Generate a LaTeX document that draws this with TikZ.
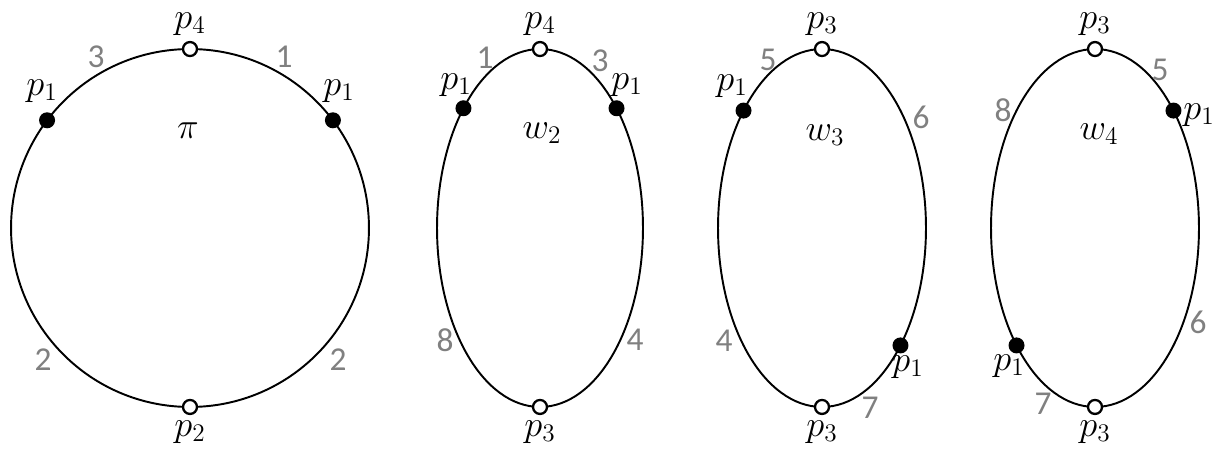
\documentclass[tikz,border=0pt]{standalone}
\usepackage{fontspec}
\newfontfamily\numfont{Carlito}
\usetikzlibrary{positioning}
\definecolor{numgray}{RGB}{128,128,128}
\tikzset{
    x=0.02cm, y=0.02cm, % one unit is one pixel of the reference
    loop/.style={line width=1.1pt}, % the circle and the ellipses
    full/.style={circle,fill=black,inner sep=0pt,minimum size=0.32cm}, % filled point
    open/.style={circle,draw=black,fill=white,line width=1.3pt,inner sep=0pt,minimum size=0.28cm}, % open point
    pt/.style={inner sep=0pt,font=\fontsize{22}{26}\selectfont}, % point names
    num/.style={inner sep=0pt,text=numgray,font=\fontsize{19}{21}\numfont}, % gray numbers
}
\begin{document}
\begin{tikzpicture}
  \useasboundingbox (0,0) rectangle (1225,457);

  % pi
  \coordinate (pi) at (190,229);
  \draw[loop] (pi) circle (3.58cm);
  \node[open] (pi_top) at ([shift={(90:3.58cm)}]pi) {};
  \node[open] (pi_bot) at ([shift={(270:3.58cm)}]pi) {};
  \node[full] (pi_a) at ([shift={(143:3.58cm)}]pi) {};
  \node[full] (pi_b) at ([shift={(37:3.58cm)}]pi) {};
  \node[pt] (pi_toplbl) [above=3pt of pi_top] {$p_4$};
  \node[pt] (pi_botlbl) [below=3pt of pi_bot] {$p_2$};
  \node[pt] (pi_albl) at (42,366) {$p_1$};
  \node[pt] (pi_blbl) at (339,366) {$p_1$};
  \node[pt] (pi_name) at (188,326) {$\pi$};
  \node[num] (pi_n3) at (96,400) {3};
  \node[num] (pi_n1) at (284,400) {1};
  \node[num] (pi_n2a) at (43,97) {2};
  \node[num] (pi_n2b) at (338,97) {2};

  % w2
  \coordinate (w2) at (540,229);
  \draw[loop] (w2) ellipse (2.06cm and 3.58cm);
  \node[open] (w2_top) at ([shift={(90:2.06cm and 3.58cm)}]w2) {};
  \node[open] (w2_bot) at ([shift={(270:2.06cm and 3.58cm)}]w2) {};
  \node[full] (w2_a) at ([shift={(138:2.06cm and 3.58cm)}]w2) {};
  \node[full] (w2_b) at ([shift={(42:2.06cm and 3.58cm)}]w2) {};
  \node[pt] (w2_toplbl) [above=3pt of w2_top] {$p_4$};
  \node[pt] (w2_botlbl) [below=3pt of w2_bot] {$p_3$};
  \node[pt] (w2_albl) at (456,372) {$p_1$};
  \node[pt] (w2_blbl) at (627,372) {$p_1$};
  \node[pt] (w2_name) at (542,324) {$w_2$};
  \node[num] (w2_n1) at (485,399) {1};
  \node[num] (w2_n3) at (600,396) {3};
  \node[num] (w2_n8) at (445,117) {8};
  \node[num] (w2_n4) at (635,117) {4};

  % w3
  \coordinate (w3) at (822,229);
  \draw[loop] (w3) ellipse (2.08cm and 3.58cm);
  \node[open] (w3_top) at ([shift={(90:2.08cm and 3.58cm)}]w3) {};
  \node[open] (w3_bot) at ([shift={(270:2.08cm and 3.58cm)}]w3) {};
  \node[full] (w3_a) at ([shift={(139:2.08cm and 3.58cm)}]w3) {};
  \node[full] (w3_b) at ([shift={(-41:2.08cm and 3.58cm)}]w3) {};
  \node[pt] (w3_toplbl) [above=3pt of w3_top] {$p_3$};
  \node[pt] (w3_botlbl) [below=3pt of w3_bot] {$p_3$};
  \node[pt] (w3_albl) at (732,371) {$p_1$};
  \node[pt] (w3_blbl) at (908,90) {$p_1$};
  \node[pt] (w3_name) at (825,322) {$w_3$};
  \node[num] (w3_n5) at (768,397) {5};
  \node[num] (w3_n6) at (921,340) {6};
  \node[num] (w3_n4) at (724,116) {4};
  \node[num] (w3_n7) at (870,49) {7};

  % w4
  \coordinate (w4) at (1095,229);
  \draw[loop] (w4) ellipse (2.08cm and 3.58cm);
  \node[open] (w4_top) at ([shift={(90:2.08cm and 3.58cm)}]w4) {};
  \node[open] (w4_bot) at ([shift={(270:2.08cm and 3.58cm)}]w4) {};
  \node[full] (w4_a) at ([shift={(41:2.08cm and 3.58cm)}]w4) {};
  \node[full] (w4_b) at ([shift={(221:2.08cm and 3.58cm)}]w4) {};
  \node[pt] (w4_toplbl) [above=3pt of w4_top] {$p_3$};
  \node[pt] (w4_botlbl) [below=3pt of w4_bot] {$p_3$};
  \node[pt] (w4_albl) at (1199,342) {$p_1$};
  \node[pt] (w4_blbl) at (1009,91) {$p_1$};
  \node[pt] (w4_name) at (1099,323) {$w_4$};
  \node[num] (w4_n5) at (1160,387) {5};
  \node[num] (w4_n8) at (1003,347) {8};
  \node[num] (w4_n6) at (1198,135) {6};
  \node[num] (w4_n7) at (1043,53) {7};
\end{tikzpicture}
\end{document}
